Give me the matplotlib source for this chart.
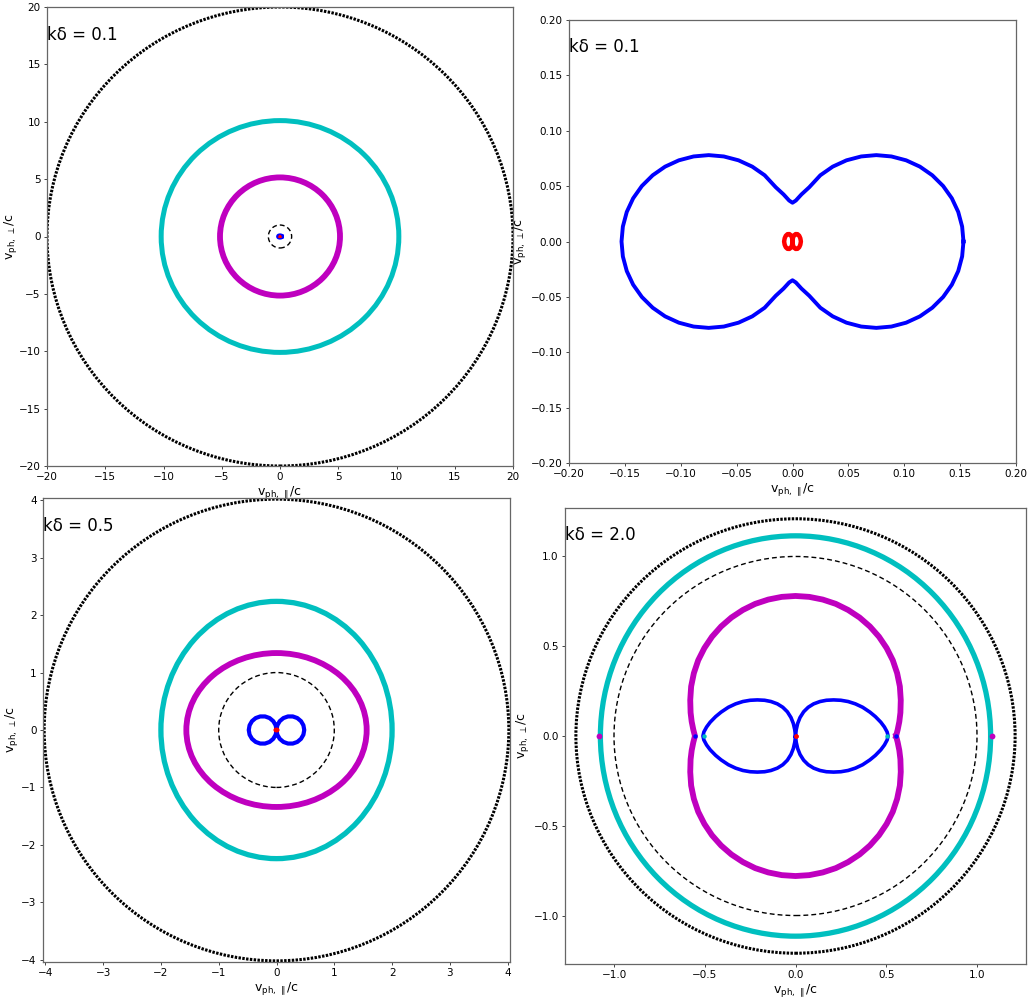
import numpy as np
import matplotlib
matplotlib.use('Agg')
import matplotlib.pyplot as plt
from matplotlib.patches import Ellipse

# ---------------- data ----------------
kd_labels = ['0.1', '0.1', '0.5', '2.0']

# Panel A (kδ = 0.1, wide view): semi-axes (x, y) of the near-circular branches
A_black = (20.0, 20.0)
A_cyan = (10.2, 10.1)
A_magenta = (5.15, 5.15)
A_dashed = (1.0, 1.0)

# Panel B (kδ = 0.1, zoom): blue peanut, first quadrant (from x-axis to y-axis)
B_blue_x = [0.153, 0.1518, 0.1483, 0.1426, 0.1348, 0.1251, 0.114, 0.1017, 0.0885,
            0.075, 0.0615, 0.0483, 0.036, 0.0249, 0.015, 0.008, 0.003, 0.0]
B_blue_y = [0.0, 0.0135, 0.0267, 0.039, 0.0501, 0.0598, 0.0676, 0.0733, 0.0768,
            0.078, 0.0768, 0.0733, 0.0676, 0.0598, 0.049, 0.0425, 0.037, 0.035]
# red figure-eight, first quadrant (from origin to tip, upper side)
B_red_x = [0.0, 0.0004, 0.0013, 0.0028, 0.0045, 0.006, 0.0070, 0.0075]
B_red_y = [0.0, 0.0032, 0.0055, 0.0067, 0.0066, 0.0052, 0.0029, 0.0]

# Panel C (kδ = 0.5)
C_black = (4.02, 4.02)
C_cyan = (2.0, 2.24)
C_magenta = (1.56, 1.34)
C_dashed = (1.0, 1.0)
C_blue_x = [0.0, 0.0145, 0.056, 0.12, 0.198, 0.282, 0.36, 0.424, 0.4655, 0.48]
C_blue_y = [0.0, 0.082, 0.154, 0.208, 0.236, 0.236, 0.208, 0.154, 0.082, 0.0]
C_red_x = [0.0, 0.004, 0.012, 0.022, 0.03]
C_red_y = [0.0, 0.012, 0.018, 0.015, 0.0]

# Panel D (kδ = 2.0)
D_black = (1.21, 1.21)
D_cyan = (1.075, 1.115)
D_dashed = (1.0, 1.0)
D_magenta_x = [0.554, 0.563, 0.572, 0.578, 0.580, 0.575, 0.560, 0.536, 0.502, 0.460,
               0.410, 0.353, 0.290, 0.222, 0.150, 0.0757, 0.0]
D_magenta_y = [0.0, 0.035, 0.08, 0.13, 0.20, 0.276, 0.350, 0.422, 0.490, 0.553,
               0.610, 0.660, 0.702, 0.736, 0.760, 0.775, 0.78]
D_blue_x = [0.0, 0.004, 0.012, 0.025, 0.045, 0.07, 0.10, 0.135, 0.17, 0.21, 0.25,
            0.29, 0.33, 0.37, 0.41, 0.44, 0.47, 0.49, 0.505, 0.51]
D_blue_y = [0.0, 0.035, 0.07, 0.103, 0.135, 0.16, 0.179, 0.192, 0.199, 0.201, 0.199,
            0.192, 0.179, 0.16, 0.133, 0.108, 0.077, 0.05, 0.022, 0.0]
D_dot_x = [1.08, 0.554, 0.505, 0.0]
D_dot_colors = ['m', 'b', 'c', 'r']

# ---------------- helpers ----------------
def peanut(qx, qy):
    qx = np.asarray(qx); qy = np.asarray(qy)
    X = np.concatenate([qx, -qx[::-1], -qx, qx[::-1]])
    Y = np.concatenate([qy, qy[::-1], -qy, -qy[::-1]])
    return X, Y

def figure8(qx, qy):
    qx = np.asarray(qx); qy = np.asarray(qy)
    X = np.concatenate([qx, qx[::-1], -qx, -qx[::-1]])
    Y = np.concatenate([qy, -qy[::-1], -qy, qy[::-1]])
    return X, Y

def ring(ax, semi, color, lw, ls='-', z=2):
    e = Ellipse((0, 0), 2 * semi[0], 2 * semi[1], fill=False, edgecolor=color,
                lw=lw, linestyle=ls, zorder=z)
    ax.add_patch(e)

BLACK_LS = (0, (0.8, 0.45))
DASH_LS = (0, (3.5, 2.2))
BLUE = (0, 0, 1)
CYAN = (0, 0.75, 0.75)
MAG = (0.75, 0, 0.75)

W, H = 1030, 1001
fig = plt.figure(figsize=(W / 100, H / 100), dpi=100)

def add_ax(l, r, t, b):
    return fig.add_axes([l / W, (H - b) / H, (r - l) / W, (b - t) / H])

def style(ax, label, ypad=2):
    for s in ax.spines.values():
        s.set_color('#666666')
        s.set_linewidth(0.9)
    ax.tick_params(labelsize=7.5, length=2.5, width=0.7, color='#444444', pad=2)
    ax.set_xlabel(r'$\mathregular{v_{ph,\,\parallel}/c}$', fontsize=9, labelpad=1)
    ax.set_ylabel(r'$\mathregular{v_{ph,\,\perp}/c}$', fontsize=9, labelpad=ypad)
    ax.text(0.0, 0.94, 'kδ = ' + label, transform=ax.transAxes, fontsize=12,
            ha='left', va='center')

def fmt(vals, nd):
    return [f'{v + 0.0:.{nd}f}'.replace('-', '\u2212') if abs(v) > 1e-12
            else f'{0:.{nd}f}' for v in vals]

# ---------------- Panel A ----------------
axA = add_ax(47, 513, 7, 466)
ring(axA, A_black, 'k', 2.2, BLACK_LS)
ring(axA, A_cyan, CYAN, 3.6)
ring(axA, A_magenta, MAG, 4.2)
ring(axA, A_dashed, 'k', 1.0, DASH_LS)
bx, by = peanut(B_blue_x, B_blue_y)
axA.plot(bx, by, color=BLUE, lw=3.0, zorder=3)
rx, ry = figure8(B_red_x, B_red_y)
axA.plot(rx, ry, color='r', lw=2.0, zorder=4)
axA.set_xlim(-20, 20); axA.set_ylim(-20, 20)
axA.set_xticks(np.arange(-20, 21, 5)); axA.set_yticks(np.arange(-20, 21, 5))
style(axA, kd_labels[0], ypad=0)

# ---------------- Panel B ----------------
axB = add_ax(569, 1016, 20, 463)
axB.plot(bx, by, color=BLUE, lw=2.8, zorder=3)
axB.plot(rx, ry, color='r', lw=3.2, zorder=4)
axB.set_xlim(-0.2, 0.2); axB.set_ylim(-0.2, 0.2)
ticks = [-0.20, -0.15, -0.10, -0.05, 0.0, 0.05, 0.10, 0.15, 0.20]
axB.set_xticks(ticks); axB.set_yticks(ticks)
axB.set_xticklabels(fmt(ticks, 2))
axB.set_yticklabels(fmt(ticks, 2))
style(axB, kd_labels[1])

# ---------------- Panel C ----------------
axC = add_ax(43, 510, 498, 962)
ring(axC, C_black, 'k', 2.2, BLACK_LS)
ring(axC, C_cyan, CYAN, 3.8)
ring(axC, C_magenta, MAG, 4.2)
ring(axC, C_dashed, 'k', 1.0, DASH_LS)
cx, cy = figure8(C_blue_x, C_blue_y)
axC.plot(cx, cy, color=BLUE, lw=3.0, zorder=3)
crx, cry = figure8(C_red_x, C_red_y)
axC.plot(crx, cry, color='r', lw=2.0, zorder=4)
axC.set_xlim(-4.04, 4.04); axC.set_ylim(-4.04, 4.04)
axC.set_xticks(np.arange(-4, 5, 1)); axC.set_yticks(np.arange(-4, 5, 1))
style(axC, kd_labels[2], ypad=1)

# ---------------- Panel D ----------------
axD = add_ax(565, 1026, 508, 964)
ring(axD, D_black, 'k', 2.2, BLACK_LS)
ring(axD, D_cyan, CYAN, 3.8)
ring(axD, D_dashed, 'k', 1.0, DASH_LS)
mx, my = peanut(D_magenta_x, D_magenta_y)
axD.plot(mx, my, color=MAG, lw=4.2, zorder=3)
dx, dy = figure8(D_blue_x, D_blue_y)
axD.plot(dx, dy, color=BLUE, lw=2.6, zorder=4)
for xv, c in zip(D_dot_x, D_dot_colors):
    axD.plot([xv, -xv], [0, 0], 'o', color=c, ms=3.2 if c != 'm' else 4.2,
             mec='none', zorder=5)
axD.set_xlim(-1.27, 1.27); axD.set_ylim(-1.27, 1.27)
axD.set_xticks([-1.0, -0.5, 0.0, 0.5, 1.0]); axD.set_yticks([-1.0, -0.5, 0.0, 0.5, 1.0])
style(axD, kd_labels[3])

fig.savefig('out.png', dpi=100)
